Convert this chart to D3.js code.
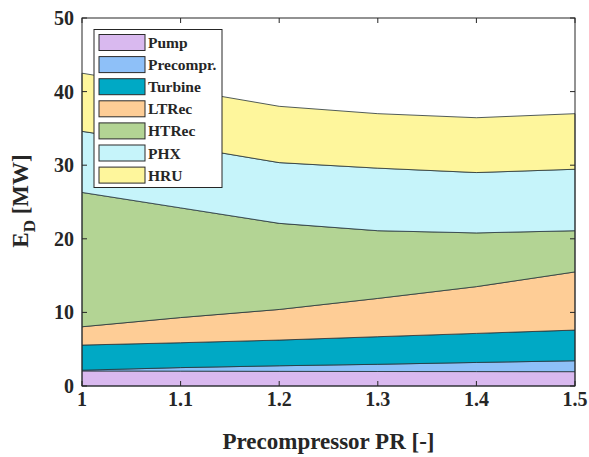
<!DOCTYPE html>
<html>
<head>
<meta charset="utf-8">
<script src="https://cdn.jsdelivr.net/npm/d3@7"></script>
<style>
  body { margin: 0; background: #fff; }
  text { font-family: "Liberation Serif", "DejaVu Serif", serif; font-weight: bold; fill: #262626; }
</style>
</head>
<body>
<svg id="chart" width="589" height="457"></svg>
<script>
// precompressor pressure ratio
const prValues = [1.0, 1.1, 1.2, 1.3, 1.4, 1.5];

// exergy destruction per component [MW]
const pump     = [2.05, 2.02, 1.99, 1.97, 1.96, 1.95];
const precompr = [0.10, 0.48, 0.76, 0.98, 1.24, 1.48];
const turbine  = [3.41, 3.38, 3.49, 3.75, 3.95, 4.17];
const ltrec    = [2.49, 3.42, 4.16, 5.20, 6.35, 7.90];
const htrec    = [18.25, 14.90, 11.70, 9.20, 7.30, 5.60];
const phx      = [8.30, 8.40, 8.25, 8.50, 8.20, 8.35];
const hru      = [7.90, 7.70, 7.65, 7.40, 7.45, 7.55];

const seriesNames = ["Pump", "Precompr.", "Turbine", "LTRec", "HTRec", "PHX", "HRU"];
const seriesColors = ["#d9b9ef", "#8ec0f8", "#00a9c5", "#fecd96", "#b3d494", "#c6f4fa", "#fef69c"];

const xTicks = [1, 1.1, 1.2, 1.3, 1.4, 1.5];
const yTicks = [0, 10, 20, 30, 40, 50];

const allSeries = [pump, precompr, turbine, ltrec, htrec, phx, hru];

const margin = { top: 18, right: 14, bottom: 71, left: 82 };
const width = 589 - margin.left - margin.right;
const height = 457 - margin.top - margin.bottom;

const svg = d3.select("#chart");
const g = svg.append("g").attr("transform", `translate(${margin.left},${margin.top})`);

const x = d3.scaleLinear().domain([1, 1.5]).range([0, width]);
const y = d3.scaleLinear().domain([0, 50]).range([height, 0]);

// build rows for the stack
const rows = prValues.map((pr, i) => {
  const row = { pr: pr };
  seriesNames.forEach((name, j) => { row[name] = allSeries[j][i]; });
  return row;
});

const stacked = d3.stack().keys(seriesNames)(rows);

const area = d3.area()
  .x(d => x(d.data.pr))
  .y0(d => y(d[0]))
  .y1(d => y(d[1]));

g.selectAll(".layer")
  .data(stacked)
  .enter().append("path")
  .attr("class", "layer")
  .attr("d", area)
  .attr("fill", (d, i) => seriesColors[i])
  .attr("stroke", "#26333a")
  .attr("stroke-width", 0.8);

// axes, ticks inside, box on all sides
const tickLen = 5;
const axisColor = "#262626";

g.append("rect")
  .attr("width", width)
  .attr("height", height)
  .attr("fill", "none")
  .attr("stroke", axisColor)
  .attr("stroke-width", 1);

xTicks.forEach(t => {
  g.append("line").attr("x1", x(t)).attr("x2", x(t)).attr("y1", height).attr("y2", height - tickLen)
    .attr("stroke", axisColor);
  g.append("line").attr("x1", x(t)).attr("x2", x(t)).attr("y1", 0).attr("y2", tickLen)
    .attr("stroke", axisColor);
  g.append("text")
    .attr("x", x(t))
    .attr("y", height + 20)
    .attr("text-anchor", "middle")
    .style("font-size", "20px")
    .text(d3.format("")(t));
});

yTicks.forEach(t => {
  g.append("line").attr("x1", 0).attr("x2", tickLen).attr("y1", y(t)).attr("y2", y(t))
    .attr("stroke", axisColor);
  g.append("line").attr("x1", width).attr("x2", width - tickLen).attr("y1", y(t)).attr("y2", y(t))
    .attr("stroke", axisColor);
  g.append("text")
    .attr("x", -8)
    .attr("y", y(t) + 7)
    .attr("text-anchor", "end")
    .style("font-size", "20px")
    .text(t);
});

// axis titles
svg.append("text")
  .attr("x", margin.left + width / 2)
  .attr("y", 449)
  .attr("text-anchor", "middle")
  .style("font-size", "23px")
  .text("Precompressor PR [-]");

const yTitle = svg.append("text")
  .attr("transform", "translate(28,201) rotate(-90)")
  .attr("text-anchor", "middle")
  .style("font-size", "23px");
yTitle.append("tspan").text("E");
yTitle.append("tspan").attr("dy", 7).style("font-size", "17px").text("D");
yTitle.append("tspan").attr("dy", -7).text(" [MW]");

// legend
const legend = g.append("g").attr("transform", "translate(12,11.5)");
legend.append("rect")
  .attr("width", 128)
  .attr("height", 158)
  .attr("fill", "#fff")
  .attr("stroke", axisColor)
  .attr("stroke-width", 1);

seriesNames.forEach((name, i) => {
  const cy = 13 + i * 22.1;
  legend.append("rect")
    .attr("x", 5)
    .attr("y", cy - 8)
    .attr("width", 46)
    .attr("height", 16)
    .attr("fill", seriesColors[i])
    .attr("stroke", "#2b2b2b")
    .attr("stroke-width", 1);
  legend.append("text")
    .attr("x", 54)
    .attr("y", cy + 5.5)
    .style("font-size", "15.5px")
    .text(name);
});
</script>
</body>
</html>
